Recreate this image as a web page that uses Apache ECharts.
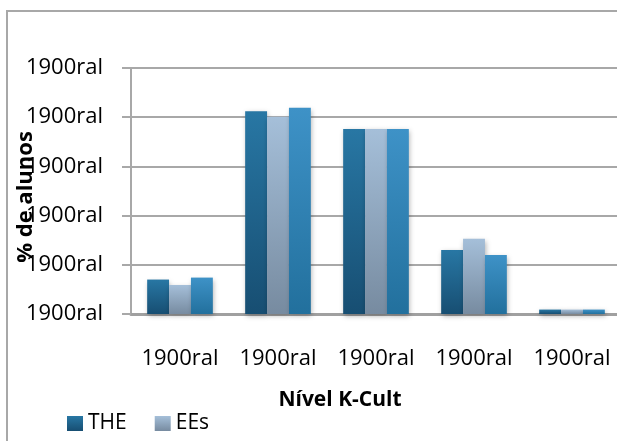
<!DOCTYPE html>
<html>
<head>
<meta charset="utf-8">
<script src="https://cdn.jsdelivr.net/npm/echarts@6/dist/echarts.min.js"></script>
<style>
  html, body { margin: 0; padding: 0; background: #fff; }
  #chart { width: 617px; height: 441px; }
</style>
</head>
<body>
<div id="chart"></div>
<script>
const categories = ['1900ral', '1900ral', '1900ral', '1900ral', '1900ral']
const theData = [7.0, 41.2, 37.6, 13.0, 0.9]
const eesData = [5.9, 40.1, 37.6, 15.3, 0.9]
const totalData = [7.4, 41.9, 37.6, 12.0, 0.9]
const yTickLabel = '1900ral'

const grad = (top, bottom) => new echarts.graphic.LinearGradient(0, 0, 0, 1, [
  { offset: 0, color: top },
  { offset: 1, color: bottom }
])

const barShadow = {
  shadowBlur: 5,
  shadowColor: 'rgba(0, 0, 0, 0.3)',
  shadowOffsetX: 1,
  shadowOffsetY: 2
}

const myChart = echarts.init(document.getElementById('chart'))
myChart.setOption({
  animation: false,
  textStyle: { fontFamily: 'Open Sans', color: '#000' },
  graphic: [{
    type: 'rect',
    shape: { x: 7, y: 11, width: 640, height: 460 },
    style: { fill: 'none', stroke: '#a8a8a8', lineWidth: 2 },
    silent: true
  }],
  legend: {
    data: ['THE', 'EEs'],
    left: 62,
    top: 408,
    itemWidth: 16,
    itemHeight: 15,
    itemGap: 28,
    icon: 'rect',
    textStyle: { fontSize: 21, fontFamily: 'Open Sans', color: '#000' }
  },
  grid: {
    left: 131,
    top: 68,
    width: 490,
    height: 246,
    containLabel: false,
    outerBoundsMode: 'none'
  },
  xAxis: {
    type: 'category',
    data: categories,
    name: 'Nível K-Cult',
    nameLocation: 'middle',
    nameGap: 76,
    nameMoveOverlap: false,
    nameTextStyle: { fontSize: 21, fontWeight: 'bold', padding: [0, 72, 0, 0] },
    axisLine: { lineStyle: { color: '#a0a0a0', width: 3 } },
    axisTick: { show: false },
    axisLabel: { fontSize: 22, margin: 34, color: '#000', interval: 0, hideOverlap: false }
  },
  yAxis: {
    type: 'value',
    min: 0,
    max: 50,
    interval: 10,
    name: '% de alunos',
    nameLocation: 'middle',
    nameRotate: 90,
    nameGap: 94,
    nameMoveOverlap: false,
    nameTextStyle: { fontSize: 22, fontWeight: 'bold', padding: [0, 12, 0, 0] },
    axisLine: { show: true, lineStyle: { color: '#a8a8a8', width: 2 } },
    axisTick: { show: true, length: 9, lineStyle: { color: '#a8a8a8', width: 2 } },
    axisLabel: {
      fontSize: 22,
      margin: 28,
      color: '#000',
      formatter: function () { return yTickLabel }
    },
    splitLine: { lineStyle: { color: '#a8a8a8', width: 2 } }
  },
  series: [
    {
      name: 'THE',
      type: 'bar',
      barGap: '0%',
      barCategoryGap: '33%',
      itemStyle: Object.assign({ color: grad('#2877a4', '#174e72') }, barShadow),
      data: theData
    },
    {
      name: 'EEs',
      type: 'bar',
      itemStyle: Object.assign({ color: grad('#a5bfd9', '#778ba0') }, barShadow),
      data: eesData
    },
    {
      name: 'Total',
      type: 'bar',
      itemStyle: Object.assign({ color: grad('#3e92c7', '#22709d') }, barShadow),
      data: totalData
    }
  ]
})
</script>
</body>
</html>
